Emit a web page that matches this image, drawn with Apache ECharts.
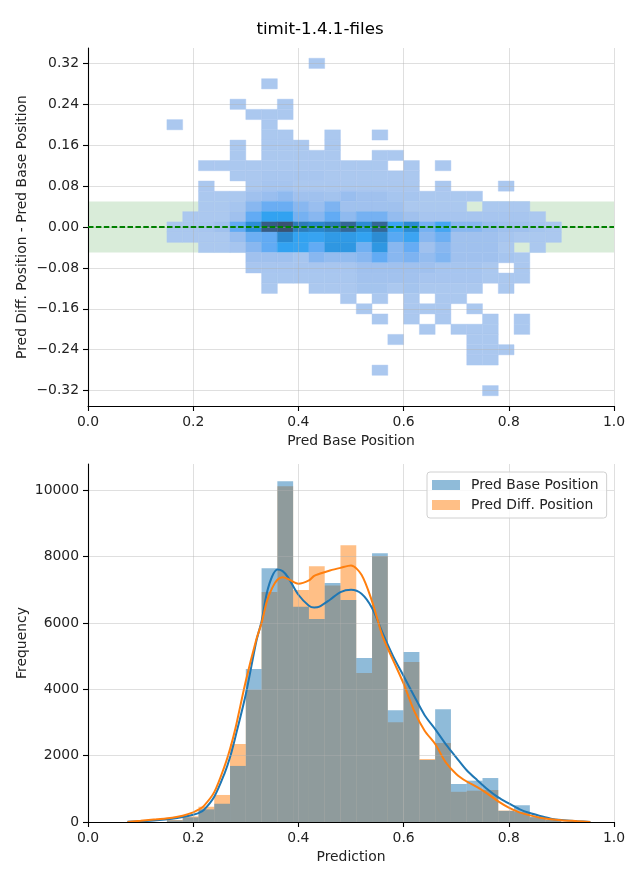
<!DOCTYPE html>
<html><head><meta charset="utf-8">
<script src="https://cdn.jsdelivr.net/npm/echarts@6/dist/echarts.min.js"></script>
<style>html,body{margin:0;padding:0;background:#fff}#c{width:640px;height:880px}</style>
</head><body><div id="c"></div>
<script>
const chartTitle = 'timit-1.4.1-files';
const FONT = 'DejaVu Sans';

// ---- shared bins (x) ----
const binStart = 0.15;
const binWidth = 0.03;           // 25 bins: 0.15 .. 0.90

// ---- top: 2D histogram ----
const rowCenters = [0.32,0.30,0.28,0.26,0.24,0.22,0.20,0.18,0.16,0.14,0.12,0.10,0.08,0.06,0.04,0.02,0.00,
  -0.02,-0.04,-0.06,-0.08,-0.10,-0.12,-0.14,-0.16,-0.18,-0.20,-0.22,-0.24,-0.26,-0.28,-0.30,-0.32];
const rowHalf = 0.01;
// colour intensity level per cell (0 = empty, 1 = lightest ... 7 = darkest)
const heatLevels = [
 [0,0,0,0,0, 0,0,0,0,1, 0,0,0,0,0, 0,0,0,0,0, 0,0,0,0,0],
 [0,0,0,0,0, 0,0,0,0,0, 0,0,0,0,0, 0,0,0,0,0, 0,0,0,0,0],
 [0,0,0,0,0, 0,1,0,0,0, 0,0,0,0,0, 0,0,0,0,0, 0,0,0,0,0],
 [0,0,0,0,0, 0,0,0,0,0, 0,0,0,0,0, 0,0,0,0,0, 0,0,0,0,0],
 [0,0,0,0,1, 0,0,1,0,0, 0,0,0,0,0, 0,0,0,0,0, 0,0,0,0,0],
 [0,0,0,0,0, 1,1,1,0,0, 0,0,0,0,0, 0,0,0,0,0, 0,0,0,0,0],
 [1,0,0,0,0, 0,1,0,0,0, 0,0,0,0,0, 0,0,0,0,0, 0,0,0,0,0],
 [0,0,0,0,0, 0,1,1,0,0, 1,0,0,1,0, 0,0,0,0,0, 0,0,0,0,0],
 [0,0,0,0,1, 0,1,1,1,0, 1,0,0,0,0, 0,0,0,0,0, 0,0,0,0,0],
 [0,0,0,0,1, 0,1,1,1,1, 1,0,0,1,1, 0,0,0,0,0, 0,0,0,0,0],
 [0,0,1,1,1, 1,1,1,1,1, 1,1,1,1,0, 1,0,1,0,0, 0,0,0,0,0],
 [0,0,0,0,1, 1,1.3,1.3,1.3,1.3, 1,1,1,1,1, 1,0,0,0,0, 0,0,0,0,0],
 [0,0,1,0,0, 1,1.5,1.5,1,1, 1,1,1,1,1, 1,0,1,0,0, 0,1,0,0,0],
 [0,0,1,1,1, 2,2.3,2.7,2,2, 1.7,2.3,2,2,1.5, 1.5,1,1,1,1, 0,0,0,0,0],
 [0,0,1,1,1.5, 3,3.8,3.8,3,2.3, 3.3,2,2,2,2, 1,1,1,1,0, 1,1,1,0,0],
 [0,1,1,1,2, 4,5,5,3.5,3, 4,2.7,3.5,3.5,2.5, 2,1.4,1.4,1.4,1.4, 1.4,1.4,1.4,1,0],
 [1,1,1.3,2,4, 5.7,6.8,7,6.2,6, 6.2,6.6,5.8,6.6,4.8, 5.8,3.5,4.6,3,3, 2.3,2,2,1.5,1],
 [1,1,1,1,2.3, 3.7,4,5.9,5,4.9, 5.3,5.3,5,5.8,4.2, 4.8,3,3.7,2,2, 2,1.5,1,1,1],
 [0,0,1,1,1.5, 3,4,5,4.9,4, 5.4,5.4,3.6,5.4,3, 3.9,2,3,2,2, 2,1,0,1,0],
 [0,0,0,0,0, 2,2,2,1.5,3, 2.5,2.5,3,4,3, 3.3,2.5,3.2,2,2, 2,1.5,1,0,0],
 [0,0,0,0,0, 1.3,1.3,1.3,1.3,1.3, 1.3,1.3,2,2,2, 2,2,1.5,1.5,1.5, 1,0,1,0,0],
 [0,0,0,0,0, 0,1.2,1.2,1.2,1.2, 1.2,1.2,1.8,1.8,1.8, 1.8,1.4,1.4,1.4,1.4, 1,1,1,0,0],
 [0,0,0,0,0, 0,1,0,0,1, 1,1,1.6,1.6,1, 1.6,1,1,1,1, 0,1,0,0,0],
 [0,0,0,0,0, 0,0,0,0,0, 0,1,0,1,0, 1,0,1,1,0, 0,0,0,0,0],
 [0,0,0,0,0, 0,0,0,0,0, 0,0,1,0,0, 1,1,1,0,1, 0,0,0,0,0],
 [0,0,0,0,0, 0,0,0,0,0, 0,0,0,1,0, 1,0,1,0,0, 1,0,1,0,0],
 [0,0,0,0,0, 0,0,0,0,0, 0,0,0,0,0, 0,1,0,1,1, 1,0,1,0,0],
 [0,0,0,0,0, 0,0,0,0,0, 0,0,0,0,1, 0,0,0,0,1, 1,0,0,0,0],
 [0,0,0,0,0, 0,0,0,0,0, 0,0,0,0,0, 0,0,0,0,1, 1,1,0,0,0],
 [0,0,0,0,0, 0,0,0,0,0, 0,0,0,0,0, 0,0,0,0,1, 1,0,0,0,0],
 [0,0,0,0,0, 0,0,0,0,0, 0,0,0,1,0, 0,0,0,0,0, 0,0,0,0,0],
 [0,0,0,0,0, 0,0,0,0,0, 0,0,0,0,0, 0,0,0,0,0, 0,0,0,0,0],
 [0,0,0,0,0, 0,0,0,0,0, 0,0,0,0,0, 0,0,0,0,0, 1,0,0,0,0]
];
const heatColors = ['#abc8ef','#a0c1ee','#88b7f0','#62abf4','#32a2f1','#2a86cc','#3a5272'];
const bandLimits = [-0.05, 0.05];
const refLineY = 0;

// ---- ticks ----
const xTicks = [0, 0.2, 0.4, 0.6, 0.8, 1.0];
const yTicksTop = [-0.32, -0.24, -0.16, -0.08, 0, 0.08, 0.16, 0.24, 0.32];
const yTicksBottom = [0, 2000, 4000, 6000, 8000, 10000];

// ---- bottom: histograms ----
const baseCounts = [50,140,380,550,1690,4610,7650,10270,6485,6120,7200,6690,4940,8100,3370,5120,1870,3400,1145,1245,1325,335,505,150,70];
const diffCounts = [60,170,460,815,2350,3980,6930,10120,6990,7710,7130,8340,4490,8020,3010,4820,1900,2380,910,944,964,345,300,140,70];
const kdeX    = [0.075,0.10,0.13,0.16,0.18,0.20,0.21,0.22,0.24,0.26,0.27,0.28,0.30,0.32,0.33,0.34,0.35,0.36,0.37,0.38,0.40,0.42,0.43,0.44,0.46,0.48,0.50,0.52,0.54,0.56,0.58,0.60,0.62,0.64,0.66,0.68,0.70,0.72,0.74,0.76,0.78,0.80,0.82,0.84,0.86,0.88,0.90,0.93,0.955];
const kdeBase = [5,25,55,100,150,220,270,360,760,1480,1950,2550,3850,5450,6050,6900,7400,7610,7560,7380,6850,6520,6466,6490,6700,6930,7000,6880,6450,5700,5000,4400,3800,3220,2800,2350,1950,1560,1260,980,740,560,390,270,180,100,60,25,0];
const kdeDiff = [2,35,80,130,190,290,370,480,900,1700,2200,2800,4250,5500,6000,6650,7050,7300,7380,7330,7180,7280,7420,7480,7580,7660,7730,7450,6650,5600,4880,4170,3350,2750,2350,1800,1450,1220,1050,850,620,430,290,200,130,85,55,25,0];

// ---- build data ----
const heatData = [];
heatLevels.forEach((row, k) => row.forEach((lv, c) => {
  if (lv > 0) heatData.push([binStart + c * binWidth, binStart + (c + 1) * binWidth,
                             rowCenters[k] - rowHalf, rowCenters[k] + rowHalf, lv]);
}));
const histData = arr => arr.map((v, i) => [binStart + i * binWidth, binStart + (i + 1) * binWidth, v]);
const kdeData = arr => arr.map((v, i) => [kdeX[i], v]);

const chart = echarts.init(document.getElementById('c'), null, {renderer: 'canvas', width: 640, height: 880});

const gridLine = {show: true, lineStyle: {color: 'rgba(176,176,176,0.45)', width: 0.9}};
const axLine = {show: true, onZero: false, lineStyle: {color: '#000', width: 1.1}};
const axTick = {show: true, length: 5, lineStyle: {color: '#000', width: 1.1}};
const lblStyle = {color: '#222', fontSize: 13.9, fontFamily: FONT, margin: 9};
const nameStyle = {color: '#222', fontSize: 13.9, fontFamily: FONT};
const minus = v => (v < 0 ? '\u2212' : '') + Math.abs(v).toFixed(2);

function rectRender(color, opacity) {
  return function (params, api) {
    const p0 = api.coord([api.value(0), api.value(2)]);
    const p1 = api.coord([api.value(1), 0]);
    return {type: 'rect', shape: {x: p0[0], y: p0[1], width: p1[0] - p0[0], height: p1[1] - p0[1]},
            style: {fill: color, opacity: opacity}};
  };
}

chart.setOption({
  animation: false,
  textStyle: {fontFamily: FONT},
  title: {text: chartTitle, left: 'center', top: 16,
          textStyle: {fontSize: 16.7, fontWeight: 'normal', color: '#000', fontFamily: FONT}},
  grid: [
    {left: 88, width: 526, top: 48, height: 358},
    {left: 88, width: 526, top: 464, height: 358}
  ],
  xAxis: [
    {type: 'value', gridIndex: 0, min: 0, max: 1, interval: 0.2, z: 10,
     axisLine: axLine, axisTick: axTick, splitLine: gridLine,
     axisLabel: Object.assign({formatter: v => v.toFixed(1)}, lblStyle),
     name: 'Pred Base Position', nameLocation: 'middle', nameGap: 28, nameMoveOverlap: false, nameTextStyle: nameStyle},
    {type: 'value', gridIndex: 1, min: 0, max: 1, interval: 0.2, z: 10,
     axisLine: axLine, axisTick: axTick, splitLine: gridLine,
     axisLabel: Object.assign({formatter: v => v.toFixed(1)}, lblStyle),
     name: 'Prediction', nameLocation: 'middle', nameGap: 28, nameMoveOverlap: false, nameTextStyle: nameStyle}
  ],
  yAxis: [
    {type: 'value', gridIndex: 0, min: -0.35, max: 0.35, z: 10,
     axisLine: axLine, axisTick: Object.assign({customValues: yTicksTop}, axTick), splitLine: gridLine,
     axisLabel: Object.assign({customValues: yTicksTop, formatter: minus}, lblStyle),
     name: 'Pred Diff. Position - Pred Base Position', nameLocation: 'middle', nameGap: 59, nameMoveOverlap: false, nameTextStyle: nameStyle},
    {type: 'value', gridIndex: 1, min: 0, max: 10790, z: 10,
     axisLine: axLine, axisTick: Object.assign({customValues: yTicksBottom}, axTick), splitLine: gridLine,
     axisLabel: Object.assign({customValues: yTicksBottom, formatter: v => String(Math.round(v))}, lblStyle),
     name: 'Frequency', nameLocation: 'middle', nameGap: 59, nameMoveOverlap: false, nameTextStyle: nameStyle}
  ],
  visualMap: {show: false, type: 'continuous', seriesIndex: 1, dimension: 4, min: 1, max: 7,
              inRange: {color: heatColors}},
  legend: {
    orient: 'vertical', left: 427, top: 472, z: 20,
    itemWidth: 28, itemHeight: 10, itemGap: 6, icon: 'rect',
    padding: [6, 8, 6, 5], borderColor: '#d0d0d0', borderWidth: 1, borderRadius: 3,
    backgroundColor: 'rgba(255,255,255,0.8)',
    textStyle: {fontSize: 13.9, color: '#222', fontFamily: FONT, padding: [0, 0, 0, 6], lineHeight: 14},
    data: [
      {name: 'Pred Base Position', itemStyle: {color: '#8fbbd9', opacity: 1}},
      {name: 'Pred Diff. Position', itemStyle: {color: '#ffbf86', opacity: 1}}
    ]
  },
  series: [
    { // tolerance band
      type: 'custom', name: 'band', xAxisIndex: 0, yAxisIndex: 0, z: 1, silent: true,
      data: [bandLimits], encode: {y: [0, 1]},
      renderItem: (params, api) => {
        const cs = params.coordSys;
        const yTop = api.coord([0, api.value(1)])[1];
        const yBot = api.coord([0, api.value(0)])[1];
        return {type: 'rect', shape: {x: cs.x, y: yTop, width: cs.width, height: yBot - yTop},
                style: {fill: 'rgba(0,128,0,0.15)'}};
      }
    },
    { // 2D histogram cells
      type: 'custom', name: 'hist2d', xAxisIndex: 0, yAxisIndex: 0, z: 2, silent: true,
      data: heatData, encode: {x: [0, 1], y: [2, 3]},
      renderItem: (params, api) => {
        const p0 = api.coord([api.value(0), api.value(3)]);
        const p1 = api.coord([api.value(1), api.value(2)]);
        const col = api.visual('color');
        return {type: 'rect', shape: {x: p0[0], y: p0[1], width: p1[0] - p0[0], height: p1[1] - p0[1]},
                style: {fill: col, stroke: col, lineWidth: 0.4}};
      }
    },
    { // zero reference line
      type: 'custom', name: 'zero', xAxisIndex: 0, yAxisIndex: 0, z: 12, silent: true,
      data: [[refLineY]], encode: {y: 0},
      renderItem: (params, api) => {
        const cs = params.coordSys;
        const y = api.coord([0, api.value(0)])[1];
        return {type: 'line', shape: {x1: cs.x, y1: y, x2: cs.x + cs.width, y2: y},
                style: {stroke: '#008000', lineWidth: 2, lineDash: [5.5, 2.4]}};
      }
    },
    {
      type: 'custom', name: 'Pred Diff. Position', xAxisIndex: 1, yAxisIndex: 1, z: 2,
      data: histData(diffCounts), encode: {x: [0, 1], y: 2},
      itemStyle: {color: '#ffbf86'},
      renderItem: rectRender('#ff7f0e', 0.5)
    },
    {
      type: 'custom', name: 'Pred Base Position', xAxisIndex: 1, yAxisIndex: 1, z: 3,
      data: histData(baseCounts), encode: {x: [0, 1], y: 2},
      itemStyle: {color: '#8fbbd9'},
      renderItem: rectRender('#1f77b4', 0.5)
    },
    {
      type: 'line', name: 'kde base', xAxisIndex: 1, yAxisIndex: 1, z: 4,
      data: kdeData(kdeBase), smooth: 0.3, showSymbol: false, silent: true,
      lineStyle: {color: '#1f77b4', width: 2}, itemStyle: {color: '#1f77b4'}
    },
    {
      type: 'line', name: 'kde diff', xAxisIndex: 1, yAxisIndex: 1, z: 5,
      data: kdeData(kdeDiff), smooth: 0.3, showSymbol: false, silent: true,
      lineStyle: {color: '#ff7f0e', width: 2}, itemStyle: {color: '#ff7f0e'}
    }
  ]
});
</script>
</body></html>
